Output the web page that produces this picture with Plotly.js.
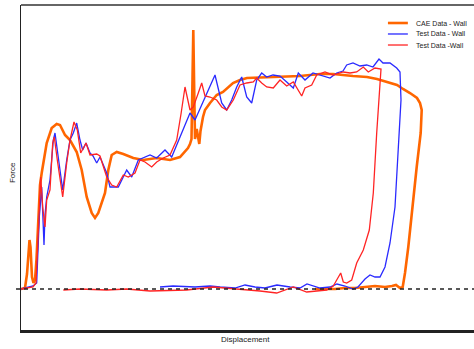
<!DOCTYPE html>
<html>
<head>
<meta charset="utf-8">
<script src="https://cdn.plot.ly/plotly-3.0.1.min.js"></script>
<style>html,body{margin:0;padding:0;background:#fff;}#chart{width:474px;height:349px;}</style>
</head>
<body>
<div id="chart"></div>
<script>
// CAE Data - Wall (orange)
var caeX = [21,25,27,28.5,29.5,30.5,32,33.5,35,36.5,38,40,41.7,43.3,46.7,51.7,56.7,60,65,70,76.7,81.7,86.7,91.7,95,98.3,103.3,105,108.3,111.7,116.7,123.3,133.3,143.3,156.7,170,180,185,188,190,191.5,192.5,193.3,194.2,195,196.7,198,199.3,200.5,201.7,203,205,210,216.7,223,233,240,247,267,300,320,333,353,367,377,387,397,403,410,417,420,421.7,420.7,416.7,413.3,408.3,405,402.7,400,396,392,385,375,365,355,345,335,325,315];
var caeY = [0,1,15,40,49,42,12,6,9,30,70,104,116,126,146,161,165,164,154,149,137,119,92,76,71,76,90,96,119,134,137,135,131,129,131,129,132,137,141,145,150,210,259,200,150,160,150,145,158,166,172,179,186,194,197,206,209,211,212,213,215,215,213,212,210,207,204,200,196,191,186,179,156,122,89,42,16,2,1,4,3,2,3,2,1,1,0,0,0];
// Test Data - Wall (blue)
var testBlueX = [21,33,36.7,39.3,41.7,44,45,46.7,50,53.3,55,58.3,62.7,66.7,70,73.3,76.7,80,82.7,86,90,93,96.7,100,106.7,110,118.3,126.7,131.7,138.3,150,156.7,165,171.7,180,190,195,205,215,221.7,226.7,231.7,236.7,241.7,246.7,251.7,256.7,261.7,266.7,273,280,286.7,293.3,298.3,305,313,320,330,336.7,343,346.7,353,360,366.7,373,379,383,390,396.7,400,401,398,395,390,385,380,375,370,365,358,353,345,337,330,320,307,300,290,277,265,255,245,235,220,210,195,173,160];
var testBlueY = [0,3,6,72,102,44,74,92,109,149,156,132,99,129,149,156,166,149,139,146,136,133,126,132,116,102,102,119,112,129,134,131,139,132,152,176,169,192,214,186,179,189,202,212,192,186,209,216,212,214,213,207,201,216,209,216,214,211,216,218,224,226,223,224,222,230,226,226,221,217,189,139,82,46,22,12,12,14,10,2,0,3,5,2,1,5,1,2,4,1,2,4,1,2,3,2,3,2];
// Test Data -Wall (red)
var testRedX = [21,33,36,38.3,40.7,42.7,45,46.7,50,52.7,54.3,57.3,62.7,66.7,70,74,77.3,80.7,86,90,96.7,100,106.7,111.7,116.7,123.3,128.3,135,140,145,151.7,156.7,163.3,170,176.7,181,185,190,193.3,198.3,201.7,205,210,216.7,221.7,226.7,233.3,240,246.7,253.3,256.7,261.7,266.7,273.3,280,286.7,293.3,301.7,305,311.7,316.7,325,333,343.3,350,356.7,363.3,368.3,375,381,380,376.7,373.3,369.3,363.3,356.7,351.7,346.7,343.3,340.7,336.7,333.3,326.7,306.7,293.3,276.7,260,240,213,186.7,150,126.7,106.7,80,63.3];
var testRedY = [0,2,6,56,112,82,62,89,99,146,152,129,92,126,149,167,159,136,146,134,135,133,112,104,102,114,112,116,129,127,122,127,131,134,149,175,202,179,182,196,206,193,192,189,182,179,189,204,206,207,211,206,202,201,209,203,207,193,201,204,214,217,214,217,216,217,222,217,221,220,202,156,96,59,39,26,9,6,7,16,9,3,-1,-3,2,-4,-2,0,2,-1,-2,0,-1,0,-1];

var seriesNames = ['CAE Data - Wall', 'Test Data - Wall', 'Test Data -Wall'];
var seriesColors = ['#ff6600', '#2a2aff', '#ff2424'];
var seriesWidths = [2.6, 1.3, 1.3];
var xTitle = 'Displacement';
var yTitle = 'Force';

var traces = [
  {x: caeX, y: caeY, name: seriesNames[0]},
  {x: testBlueX, y: testBlueY, name: seriesNames[1]},
  {x: testRedX, y: testRedY, name: seriesNames[2]}
].map(function (t, i) {
  t.type = 'scatter'; t.mode = 'lines';
  t.line = {color: seriesColors[i], width: seriesWidths[i]};
  t.hoverinfo = 'skip';
  return t;
});

var fontFam = 'Liberation Sans, Arial, sans-serif';
var shapes = [
  {type: 'line', xref: 'paper', yref: 'y', x0: -0.011, x1: 1, y0: 0, y1: 0,
   line: {color: '#222', width: 1.3, dash: '4px,4px'}},
  {type: 'line', xref: 'paper', yref: 'paper', x0: 0, x1: 1, y0: 1, y1: 1,
   line: {color: '#333', width: 1.5}}
];
var annotations = [
  {xref: 'paper', yref: 'paper', x: -0.0199, y: 0.486, xanchor: 'center', yanchor: 'middle',
   text: yTitle, textangle: -90, showarrow: false,
   font: {family: fontFam, size: 8, color: '#222'}},
  {xref: 'paper', yref: 'paper', x: 0.4945, y: -0.0277, xanchor: 'center', yanchor: 'middle',
   text: xTitle, showarrow: false,
   font: {family: fontFam, size: 8, color: '#222'}}
];
// manual legend
var legY = [0.9446, 0.9108, 0.8769];
for (var i = 0; i < 3; i++) {
  shapes.push({type: 'line', xref: 'paper', yref: 'paper', x0: 0.810, x1: 0.854, y0: legY[i], y1: legY[i],
    line: {color: seriesColors[i], width: i === 0 ? 2.6 : 1.3}});
  annotations.push({xref: 'paper', yref: 'paper', x: 0.868, y: legY[i], xanchor: 'left', yanchor: 'middle',
    text: seriesNames[i], showarrow: false, font: {family: fontFam, size: 7, color: '#222'}});
}

var layout = {
  width: 474, height: 349,
  margin: {l: 21, r: 0, t: 5, b: 19, pad: 0},
  paper_bgcolor: '#fff', plot_bgcolor: '#fff',
  showlegend: false,
  xaxis: {range: [21, 474], showgrid: false, zeroline: false, showticklabels: false, ticks: '',
          showline: true, linecolor: '#222', linewidth: 2.5, fixedrange: true},
  yaxis: {range: [-41, 284], showgrid: false, zeroline: false, showticklabels: false, ticks: '',
          showline: true, linecolor: '#222', linewidth: 1.5, fixedrange: true},
  shapes: shapes,
  annotations: annotations
};
Plotly.newPlot('chart', traces, layout, {staticPlot: true, displayModeBar: false});
</script>
</body>
</html>
